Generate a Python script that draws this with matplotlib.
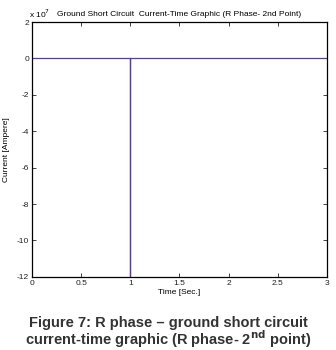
import matplotlib.pyplot as plt

plt.rcParams['axes.unicode_minus'] = False
plt.rcParams['font.family'] = ['Liberation Sans', 'DejaVu Sans']

# Current-time samples of the R phase fault (spike at t = 1 s)
time = [0.0, 1.0, 1.0, 1.0, 3.0]
current = [0.0, 0.0, -13.0e7, 0.0, 0.0]

x_ticks = [0, 0.5, 1, 1.5, 2, 2.5, 3]
x_labels = ['0', '0.5', '1', '1.5', '2', '2.5', '3']
y_ticks = [2, 0, -2, -4, -6, -8, -10, -12]

fig = plt.figure(figsize=(3.36, 3.5), dpi=100)
ax = fig.add_axes([0.095, 0.209, 0.878, 0.728])

ax.plot(time, [c / 1e7 for c in current], color='#5b3f80', linewidth=0.9)
ax.set_xlim(0, 3)
ax.set_ylim(-12, 2)
ax.set_xticks(x_ticks)
ax.set_xticklabels(x_labels)
ax.set_yticks(y_ticks)
ax.tick_params(direction='in', top=True, right=True, labelsize=6,
               length=3, width=0.6, colors='#222222', pad=2)
for spine in ax.spines.values():
    spine.set_linewidth(0.9)

ax.set_xlabel('Time [Sec.]', fontsize=6, labelpad=2)
ax.set_ylabel('Current [Ampere]', fontsize=6, labelpad=4)
ax.yaxis.set_label_coords(-0.075, 0.5)
ax.set_title('Ground Short Circuit  Current-Time Graphic (R Phase- 2nd Point)',
             fontsize=6, pad=4)
fig.text(0.118, 0.942, r'x 10$^7$', fontsize=6, ha='center', va='bottom')

fig.text(0.5, 0.078, 'Figure 7: R phase \u2013 ground short circuit',
         fontsize=10.5, fontweight='bold', ha='center', va='center',
         color='#333333')
fig.text(0.5, 0.030, r'current-time graphic (R phase- 2$^{\mathbf{nd}}$ point)',
         fontsize=10.5, fontweight='bold', ha='center', va='center',
         color='#333333')

fig.savefig('out.png', dpi=100)
